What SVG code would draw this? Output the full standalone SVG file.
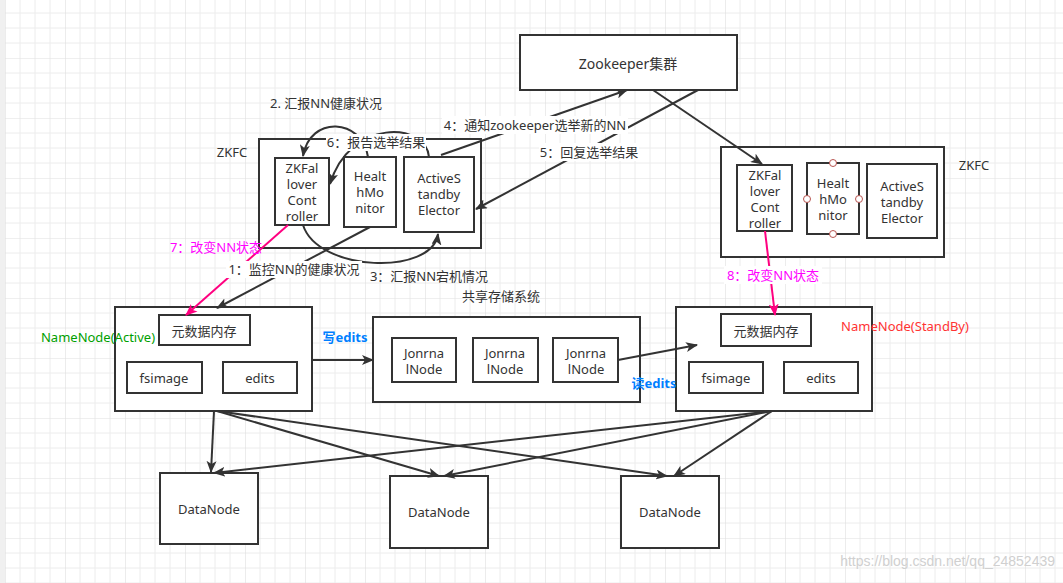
<svg xmlns="http://www.w3.org/2000/svg" width="1063" height="583" viewBox="0 0 1063 583">
<defs>
<pattern id="grid" x="5" y="-2" width="60" height="60" patternUnits="userSpaceOnUse">
<path d="M15,0V60M30,0V60M45,0V60M0,15H60M0,30H60M0,45H60" stroke="#ececec" stroke-width="1" fill="none"/>
<path d="M0,0V60M0,0H60" stroke="#e0e0e0" stroke-width="1.2" fill="none"/>
</pattern>
<marker id="arr" viewBox="0 0 12 10" refX="11" refY="5" markerWidth="12" markerHeight="10" markerUnits="userSpaceOnUse" orient="auto">
<path d="M0,0 L12,5 L0,10 L3,5 z" fill="#333"/>
</marker>
<marker id="arrp" viewBox="0 0 12 10" refX="11" refY="5" markerWidth="12" markerHeight="10" markerUnits="userSpaceOnUse" orient="auto">
<path d="M0,0 L12,5 L0,10 L3,5 z" fill="#ff0080"/>
</marker>
<style>
.box{fill:#fff;stroke:#333;stroke-width:2}
.t{font-family:"Noto Sans","Noto Sans CJK SC",sans-serif;font-size:13px;fill:#333;text-anchor:middle;dominant-baseline:central}
.big{font-size:14px}
.e{fill:none;stroke:#333;stroke-width:2;marker-end:url(#arr)}
.ep{fill:none;stroke:#ff0080;stroke-width:2;marker-end:url(#arrp)}
.lbg{fill:#fff}
.h{fill:#fff;stroke:#b85450;stroke-width:1}
.blue{fill:#007fff;font-weight:bold}
.mag{fill:#ff00ff}
</style>
</defs>
<rect width="1063" height="583" fill="#fff"/>
<rect width="1063" height="583" fill="url(#grid)"/>
<rect x="0" y="0" width="5" height="583" fill="#f0f0f0"/>

<g id="zookeeper">
<rect class="box" x="520" y="35" width="217" height="55"/>
<text class="t big" x="628" y="63">Zookeeper集群</text>
</g>

<g id="zkfc-left">
<rect class="box" x="259" y="139" width="222" height="109"/>
<text class="t" x="232" y="152">ZKFC</text>
</g>
<g id="zkfc-left-controller">
<rect class="box" x="275" y="158" width="54" height="67"/>
<text class="t" x="302" y="168">ZKFal</text>
<text class="t" x="302" y="184">lover</text>
<text class="t" x="302" y="200">Cont</text>
<text class="t" x="302" y="216">roller</text>
</g>
<g id="zkfc-left-health">
<rect class="box" x="344" y="157" width="52" height="70"/>
<text class="t" x="370" y="176">Healt</text>
<text class="t" x="370" y="192">hMo</text>
<text class="t" x="370" y="208">nitor</text>
</g>
<g id="zkfc-left-elector">
<rect class="box" x="404" y="157" width="70" height="75"/>
<text class="t" x="439" y="178">ActiveS</text>
<text class="t" x="439" y="194">tandby</text>
<text class="t" x="439" y="210">Elector</text>
</g>

<g id="zkfc-right">
<rect class="box" x="721" y="147" width="223" height="110"/>
<text class="t" x="974" y="165">ZKFC</text>
</g>
<g id="zkfc-right-controller">
<rect class="box" x="737" y="165" width="55" height="66"/>
<text class="t" x="765" y="175">ZKFal</text>
<text class="t" x="765" y="191">lover</text>
<text class="t" x="765" y="207">Cont</text>
<text class="t" x="765" y="223">roller</text>
</g>
<g id="zkfc-right-health">
<rect class="box" x="807" y="163" width="52" height="71"/>
<text class="t" x="833" y="183">Healt</text>
<text class="t" x="833" y="199">hMo</text>
<text class="t" x="833" y="215">nitor</text>
<circle class="h" cx="833" cy="163" r="3.5"/>
<circle class="h" cx="833" cy="234" r="3.5"/>
<circle class="h" cx="807" cy="199" r="3.5"/>
<circle class="h" cx="859" cy="199" r="3.5"/>
</g>
<g id="zkfc-right-elector">
<rect class="box" x="867" y="164" width="70" height="74"/>
<text class="t" x="902" y="186">ActiveS</text>
<text class="t" x="902" y="202">tandby</text>
<text class="t" x="902" y="218">Elector</text>
</g>

<g id="namenode-active">
<rect class="box" x="115" y="307" width="197" height="104"/>
<text class="t" x="98" y="337" style="fill:#00a000">NameNode(Active)</text>
<rect class="box" x="159" y="315" width="91" height="30"/>
<text class="t" x="204" y="331">元数据内存</text>
<rect class="box" x="127" y="362" width="75" height="31"/>
<text class="t" x="164" y="378">fsimage</text>
<rect class="box" x="223" y="362" width="74" height="31"/>
<text class="t" x="260" y="378">edits</text>
</g>

<g id="shared-storage">
<rect class="box" x="373" y="317" width="267" height="85"/>
<text class="t" x="501" y="296">共享存储系统</text>
<rect class="box" x="392" y="338" width="64" height="44"/>
<text class="t" x="424" y="353">Jonrna</text>
<text class="t" x="424" y="369">lNode</text>
<rect class="box" x="473" y="338" width="65" height="44"/>
<text class="t" x="505" y="353">Jonrna</text>
<text class="t" x="505" y="369">lNode</text>
<rect class="box" x="553" y="338" width="65" height="44"/>
<text class="t" x="586" y="353">Jonrna</text>
<text class="t" x="586" y="369">lNode</text>
</g>

<g id="namenode-standby">
<rect class="box" x="676" y="307" width="196" height="104"/>
<text class="t" x="905" y="326" style="fill:#ff3333">NameNode(StandBy)</text>
<rect class="box" x="721" y="314" width="90" height="32"/>
<text class="t" x="766" y="331">元数据内存</text>
<rect class="box" x="689" y="362" width="74" height="31"/>
<text class="t" x="726" y="378">fsimage</text>
<rect class="box" x="784" y="362" width="74" height="31"/>
<text class="t" x="821" y="378">edits</text>
</g>

<g id="datanode-1">
<rect class="box" x="160" y="473" width="98" height="71"/>
<text class="t" x="209" y="509">DataNode</text>
</g>
<g id="datanode-2">
<rect class="box" x="390" y="476" width="98" height="72"/>
<text class="t" x="439" y="512">DataNode</text>
</g>
<g id="datanode-3">
<rect class="box" x="621" y="476" width="98" height="72"/>
<text class="t" x="670" y="512">DataNode</text>
</g>

<g id="connectors">
<path class="e" d="M368,157 C362,118 310,115 303,156"/>
<path class="e" d="M429,157 C426,122 350,118 330,184"/>
<path class="e" d="M303,225 C318,272 432,276 438,234"/>
<path class="e" d="M370,227 L217,308"/>
<path class="e" d="M441,155 L627,90"/>
<path class="e" d="M698,90 L476,209"/>
<path class="e" d="M653,90 L762,164"/>
<path class="ep" d="M288,225 L186,315"/>
<path class="ep" d="M765,231 L775,315"/>
<path class="e" d="M312,360 L373,360"/>
<path class="e" d="M618,360 L697,345"/>
<path class="e" d="M214,411 L211,472"/>
<path class="e" d="M217,411 L439,476"/>
<path class="e" d="M217,411 L667,476"/>
<path class="e" d="M772,411 L214,473"/>
<path class="e" d="M772,411 L444,476"/>
<path class="e" d="M772,411 L674,476"/>

<text class="t" x="326" y="103">2. 汇报NN健康状况</text>
<rect class="lbg" x="326" y="134" width="100" height="17"/>
<text class="t" x="376" y="142">6：报告选举结果</text>
<rect class="lbg" x="442" y="116" width="186" height="18"/>
<text class="t" x="535" y="125">4：通知zookeeper选举新的NN</text>
<rect class="lbg" x="539" y="143" width="100" height="18"/>
<text class="t" x="589" y="152">5：回复选举结果</text>
<rect class="lbg" x="226" y="261" width="136" height="17"/>
<text class="t" x="294" y="269">1：监控NN的健康状况</text>
<text class="t" x="429" y="276">3：汇报NN宕机情况</text>
<text class="t mag" x="216" y="247">7：改变NN状态</text>
<rect class="lbg" x="724" y="266" width="98" height="18"/>
<text class="t mag" x="773" y="275">8：改变NN状态</text>
<text class="t blue" x="345" y="337">写edits</text>
<text class="t blue" x="654" y="383">读edits</text>
</g>
<text x="1055" y="566" style="font-family:'Liberation Sans',sans-serif;font-size:14px;fill:#d0d0d0;text-anchor:end">https://blog.csdn.net/qq_24852439</text>
</svg>
